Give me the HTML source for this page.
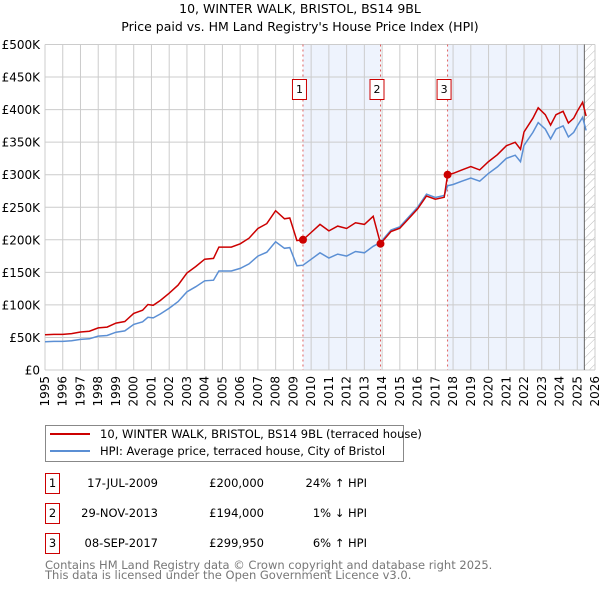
<!DOCTYPE html>
<html><head><meta charset="utf-8"><style>
body{margin:0;background:#fff;font-family:"DejaVu Sans","Liberation Sans",sans-serif;}
svg text{font-family:"DejaVu Sans","Liberation Sans",sans-serif;}
</style></head><body>
<svg id="c" width="600" height="590" xmlns="http://www.w3.org/2000/svg">
<defs><pattern id="hatch" width="6" height="6" patternUnits="userSpaceOnUse" patternTransform="rotate(45)"><line x1="0" y1="0" x2="0" y2="6" stroke="#bbb" stroke-width="1"/></pattern></defs>
<text x="300" y="13" text-anchor="middle" font-size="12.5">10, WINTER WALK, BRISTOL, BS14 9BL</text>
<text x="300" y="31" text-anchor="middle" font-size="12.5">Price paid vs. HM Land Registry's House Price Index (HPI)</text>
<g id="plot"></g>
<g>
<rect x="45.5" y="425.5" width="358" height="36" fill="#fff" stroke="#888"/>
<line x1="50" y1="434" x2="90" y2="434" stroke="#cc0000" stroke-width="2"/>
<text x="100" y="438" font-size="11.5">10, WINTER WALK, BRISTOL, BS14 9BL (terraced house)</text>
<line x1="50" y1="451" x2="90" y2="451" stroke="#5b8fd4" stroke-width="2"/>
<text x="100" y="455" font-size="11.5">HPI: Average price, terraced house, City of Bristol</text>
</g>
<g id="table" font-size="11.5"></g>
<text x="45" y="569" font-size="11.5" fill="#777">Contains HM Land Registry data © Crown copyright and database right 2025.</text>
<text x="45" y="579" font-size="11.5" fill="#777">This data is licensed under the Open Government Licence v3.0.</text>
</svg>
<script>
const hpiYears=[1995,1995.5,1996,1996.5,1997,1997.5,1998,1998.5,1999,1999.5,2000,2000.5,2000.8,2001.1,2001.5,2002,2002.5,2003,2003.5,2004,2004.5,2004.8,2005.5,2006,2006.5,2007,2007.5,2008,2008.5,2008.8,2009.2,2009.54,2010,2010.5,2011,2011.5,2012,2012.5,2013,2013.5,2013.91,2014.5,2015,2015.5,2016,2016.5,2017,2017.5,2017.69,2018,2018.5,2019,2019.5,2020,2020.5,2021,2021.5,2021.8,2022,2022.5,2022.8,2023.2,2023.5,2023.8,2024.2,2024.5,2024.8,2025,2025.3,2025.5];
const hpiValues=[43.5,44,44,45,47,48,52,53,58,60,70,74,81,80,86,95,105,120,128,137,138,152,152,156,163,175,181,197,187,188,160,161,170,180,172,178,175,182,180,190,196,215,220,235,250,270,265,268,283,285,290,295,290,302,312,325,330,320,345,365,380,370,355,370,375,358,365,375,388,368];
const saleYears=[2009.54,2013.91,2017.69];
const salePrices=[200,194,299.95];
const saleLabels=["1","2","3"];
const saleDates=["17-JUL-2009","29-NOV-2013","08-SEP-2017"];
const salePriceText=["£200,000","£194,000","£299,950"];
const saleHpiText=["24% ↑ HPI","1% ↓ HPI","6% ↑ HPI"];
const yTicks=[0,50,100,150,200,250,300,350,400,450,500];
const yTickLabels=["£0","£50K","£100K","£150K","£200K","£250K","£300K","£350K","£400K","£450K","£500K"];
const xTicks=[];for(let y=1995;y<=2026;y++)xTicks.push(y);

const X0=45,X1=595,Y0=370,Y1=44.5,YR0=1995,YR1=2026,VMAX=500,DATA_END=2025.4;
const sx=y=>X0+(y-YR0)/(YR1-YR0)*(X1-X0);
const sy=v=>Y0-v/VMAX*(Y0-Y1);
const NS="http://www.w3.org/2000/svg";
const g=document.getElementById('plot');
function mk(t,a,p){const e=document.createElementNS(NS,t);for(const k in a)e.setAttribute(k,a[k]);(p||g).appendChild(e);return e;}
function hpiAt(t){for(let i=0;i<hpiYears.length-1;i++){if(t<=hpiYears[i+1]){const f=(t-hpiYears[i])/(hpiYears[i+1]-hpiYears[i]);return hpiValues[i]+f*(hpiValues[i+1]-hpiValues[i]);}}return hpiValues[hpiValues.length-1];}

let s=mk('rect',{x:sx(saleYears[0]),y:Y1,width:sx(saleYears[1])-sx(saleYears[0]),height:Y0-Y1,fill:'#eef3fd'});

s=mk('rect',{x:sx(saleYears[2]),y:Y1,width:sx(DATA_END)-sx(saleYears[2]),height:Y0-Y1,fill:'#eef3fd'});

s=mk('rect',{x:sx(DATA_END),y:Y1,width:X1-sx(DATA_END),height:Y0-Y1,fill:'url(#hatch)'});

xTicks.forEach(y=>{const l=mk('line',{x1:sx(y),x2:sx(y),y1:Y1,y2:Y0,stroke:'#ccc'});
 const t=mk('text',{x:0,y:0,'font-size':12,'text-anchor':'end',transform:`translate(${sx(y)+4},${Y0+6}) rotate(-90)`});t.textContent=y;});
yTicks.forEach((v,i)=>{const l=mk('line',{x1:X0,x2:X1,y1:sy(v),y2:sy(v),stroke:'#ccc'});
 const t=mk('text',{x:40,y:sy(v)+4.5,'font-size':12,'text-anchor':'end'});t.textContent=yTickLabels[i];});
let ln=mk('line',{x1:sx(DATA_END),x2:sx(DATA_END),y1:Y1,y2:Y0,stroke:'#666'});
saleYears.forEach((y,i)=>{const l=mk('line',{x1:sx(y),x2:sx(y),y1:Y1,y2:Y0,stroke:'#e06060','stroke-dasharray':'2,3'});
 const r=mk('rect',{x:sx(y)-10.5,y:79.5,width:14,height:20,fill:'#fff',stroke:'#cc0000'});
 const t=mk('text',{x:sx(y)-3.5,y:93,'font-size':11,'text-anchor':'middle'});t.textContent=saleLabels[i];});
let d='';hpiYears.forEach((y,i)=>{d+=(i?'L':'M')+sx(y).toFixed(1)+','+sy(hpiValues[i]).toFixed(1);});
let p=mk('path',{d:d,fill:'none',stroke:'#5b8fd4','stroke-width':1.5});
function priceAt(t,k){return salePrices[k]*hpiAt(t)/hpiAt(saleYears[k]);}
d='';
hpiYears.forEach((y,i)=>{let k=0;for(let j=0;j<saleYears.length;j++)if(y>=saleYears[j])k=j;
 d+=(d?'L':'M')+sx(y).toFixed(1)+','+sy(priceAt(y,k)).toFixed(1);
 for(let j=1;j<saleYears.length;j++){if(i<hpiYears.length-1&&y<saleYears[j]&&hpiYears[i+1]>saleYears[j]){const sy1=saleYears[j];d+='L'+sx(sy1).toFixed(1)+','+sy(priceAt(sy1,j-1)).toFixed(1)+'L'+sx(sy1).toFixed(1)+','+sy(salePrices[j]).toFixed(1);}}});
p=mk('path',{d:d,fill:'none',stroke:'#cc0000','stroke-width':1.5});
saleYears.forEach((y,i)=>{const c=mk('circle',{cx:sx(y),cy:sy(salePrices[i]),r:4,fill:'#cc0000'});});
const tb=document.getElementById('table');
saleYears.forEach((y,i)=>{const yy=473+i*30;
 const r=mk('rect',{x:45.5,y:yy+0.5,width:14,height:20,fill:'#fff',stroke:'#cc0000'},tb);
 let t=mk('text',{x:52.5,y:yy+14,'text-anchor':'middle'},tb);t.textContent=saleLabels[i];
 t=mk('text',{x:158,y:yy+14,'text-anchor':'end'},tb);t.textContent=saleDates[i];
 t=mk('text',{x:264,y:yy+14,'text-anchor':'end'},tb);t.textContent=salePriceText[i];
 t=mk('text',{x:367,y:yy+14,'text-anchor':'end'},tb);t.textContent=saleHpiText[i];});
</script>
</body></html>
